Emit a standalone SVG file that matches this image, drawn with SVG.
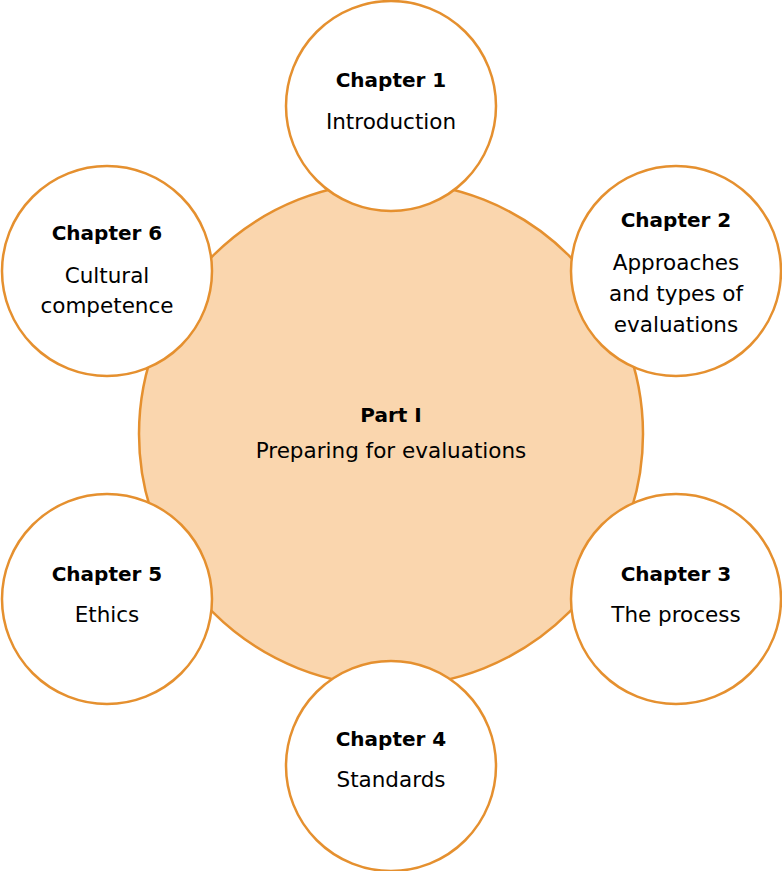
<svg xmlns="http://www.w3.org/2000/svg" width="782" height="871" viewBox="0 0 782 871">
<style>
.c{fill:#ffffff;stroke:#E5902F;stroke-width:2.5}
.m{fill:#FAD6AE;stroke:#E5902F;stroke-width:2.5}
.b{font-family:"DejaVu Sans",sans-serif;font-weight:bold;font-size:20px;fill:#000;text-anchor:middle}
.r{font-family:"DejaVu Sans",sans-serif;font-size:21.5px;fill:#000;text-anchor:middle}
</style>
<rect width="782" height="871" fill="#ffffff"/>
<g id="part1">
<circle class="m" cx="391" cy="434" r="252"/>
<text class="b" x="391" y="422">Part I</text>
<text class="r" x="391" y="458">Preparing for evaluations</text>
</g>
<g id="connectors"></g>
<g id="ch1">
<circle class="c" cx="391" cy="106" r="105"/>
<text class="b" x="391" y="87">Chapter 1</text>
<text class="r" x="391" y="129">Introduction</text>
</g>
<g id="ch2">
<circle class="c" cx="676" cy="271" r="105"/>
<text class="b" x="676" y="227">Chapter 2</text>
<text class="r" x="676" y="270">Approaches</text>
<text class="r" x="676" y="301">and types of</text>
<text class="r" x="676" y="332">evaluations</text>
</g>
<g id="ch3">
<circle class="c" cx="676" cy="599" r="105"/>
<text class="b" x="676" y="581">Chapter 3</text>
<text class="r" x="676" y="622">The process</text>
</g>
<g id="ch4">
<circle class="c" cx="391" cy="766" r="105"/>
<text class="b" x="391" y="746">Chapter 4</text>
<text class="r" x="391" y="787">Standards</text>
</g>
<g id="ch5">
<circle class="c" cx="107" cy="599" r="105"/>
<text class="b" x="107" y="581">Chapter 5</text>
<text class="r" x="107" y="622">Ethics</text>
</g>
<g id="ch6">
<circle class="c" cx="107" cy="271" r="105"/>
<text class="b" x="107" y="240">Chapter 6</text>
<text class="r" x="107" y="283">Cultural</text>
<text class="r" x="107" y="313">competence</text>
</g>
</svg>
